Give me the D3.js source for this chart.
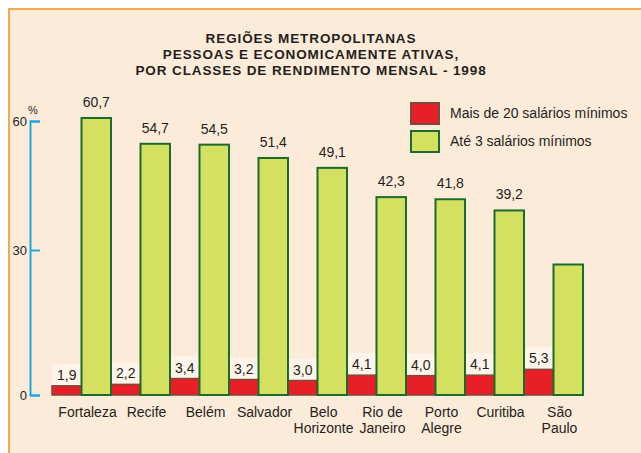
<!DOCTYPE html>
<html>
<head>
<meta charset="utf-8">
<script src="https://cdn.jsdelivr.net/npm/d3@7"></script>
<style>
  body { margin: 0; background: #fff; }
  svg { display: block; font-family: "Liberation Sans", Arial, sans-serif; }
</style>
</head>
<body>
<div id="chart"></div>
<script>
// data
const cities = ['Fortaleza', 'Recife', 'Belém', 'Salvador', 'Belo Horizonte',
    'Rio de Janeiro', 'Porto Alegre', 'Curitiba', 'São Paulo'];
const cityLines = [['Fortaleza'], ['Recife'], ['Belém'], ['Salvador'], ['Belo', 'Horizonte'],
    ['Rio de', 'Janeiro'], ['Porto', 'Alegre'], ['Curitiba'], ['São', 'Paulo']];
const mais20 = [1.9, 2.2, 3.4, 3.2, 3.0, 4.1, 4.0, 4.1, 5.3];
const ate3 = [60.7, 54.7, 54.5, 51.4, 49.1, 42.3, 41.8, 39.2, 27];
// São Paulo green value has no label in the original
const ate3Labels = ['60,7', '54,7', '54,5', '51,4', '49,1', '42,3', '41,8', '39,2', ''];
const seriesNames = ['Mais de 20 salários mínimos', 'Até 3 salários mínimos'];
const yTicks = [0, 30, 60];
const titleLines = ['REGIÕES METROPOLITANAS', 'PESSOAS E ECONOMICAMENTE ATIVAS,',
    'POR CLASSES DE RENDIMENTO MENSAL - 1998'];

const width = 641;
const height = 453;

const colors = {
    bg: '#fdebd9',
    border: '#f6a84e',
    red: '#e91f27', redStroke: '#7c4a3c',
    green: '#d4e060', greenStroke: '#1b6a2e',
    axis: '#1ba8e0',
    text: '#231f20'
};

const svg = d3.select('#chart')
    .append('svg')
    .attr('width', width)
    .attr('height', height);

// panel with orange border on top and left
svg.append('rect')
    .attr('x', 8).attr('y', 8)
    .attr('width', width).attr('height', height)
    .attr('fill', colors.bg);
svg.append('path')
    .attr('d', `M9,${height}V9H${width}`)
    .attr('fill', 'none')
    .attr('stroke', colors.border)
    .attr('stroke-width', 2);

// title
svg.append('g')
    .selectAll('text')
    .data(titleLines)
    .enter()
    .append('text')
    .attr('x', 311)
    .attr('y', (d, i) => 43 + i * 16)
    .attr('text-anchor', 'middle')
    .style('font-size', '13.5px')
    .style('font-weight', 'bold')
    .style('letter-spacing', '0.9px')
    .attr('fill', colors.text)
    .text(d => d);

// scales
const xScale = d3.scaleBand()
    .domain(cities)
    .range([52, 583]);

const xSub = d3.scaleBand()
    .domain([0, 1])
    .range([0, xScale.bandwidth()]);

// the printed axis is not quite linear, so use a piecewise scale through its ticks
const yScale = d3.scaleLinear()
    .domain([0, 30, 60])
    .range([395, 250, 121]);

// y axis (bracket shape with ticks to the right)
const yAxis = svg.append('g')
    .attr('transform', 'translate(30,0)')
    .call(d3.axisLeft(yScale).tickValues(yTicks).tickSize(-10).tickPadding(3));
yAxis.select('.domain').attr('stroke', colors.axis).attr('stroke-width', 2);
yAxis.selectAll('.tick line').attr('stroke', colors.axis).attr('stroke-width', 2);
yAxis.selectAll('.tick text')
    .attr('fill', colors.text)
    .style('font-size', '13px')
    .style('font-family', '"Liberation Sans", Arial, sans-serif');

svg.append('text')
    .attr('x', 28).attr('y', 114)
    .style('font-size', '11px')
    .attr('fill', colors.text)
    .text('%');

const chart = svg.append('g');

// light boxes behind the small red labels
chart.selectAll('.lblbox')
    .data(mais20)
    .enter()
    .append('rect')
    .attr('x', (d, i) => xScale(cities[i]) + xSub(0))
    .attr('y', d => yScale(d) - 22)
    .attr('width', xSub.bandwidth())
    .attr('height', 22)
    .attr('fill', '#fef4ea');

// red bars
chart.selectAll('.bar-red')
    .data(mais20)
    .enter()
    .append('rect')
    .attr('class', 'bar-red')
    .attr('x', (d, i) => xScale(cities[i]) + xSub(0))
    .attr('y', d => yScale(d))
    .attr('width', xSub.bandwidth())
    .attr('height', d => yScale(0) - yScale(d))
    .attr('fill', colors.red)
    .attr('stroke', colors.redStroke)
    .attr('stroke-width', 1.5);

// green bars
chart.selectAll('.bar-green')
    .data(ate3)
    .enter()
    .append('rect')
    .attr('class', 'bar-green')
    .attr('x', (d, i) => xScale(cities[i]) + xSub(1))
    .attr('y', d => yScale(d))
    .attr('width', xSub.bandwidth())
    .attr('height', d => yScale(0) - yScale(d))
    .attr('fill', colors.green)
    .attr('stroke', colors.greenStroke)
    .attr('stroke-width', 2);

// value labels
chart.selectAll('.lbl-red')
    .data(mais20)
    .enter()
    .append('text')
    .attr('x', (d, i) => xScale(cities[i]) + xSub(0) + xSub.bandwidth() / 2)
    .attr('y', d => yScale(d) - 6)
    .attr('text-anchor', 'middle')
    .style('font-size', '14px')
    .attr('fill', colors.text)
    .text(d => d3.format('.1f')(d).replace('.', ','));

chart.selectAll('.lbl-green')
    .data(ate3)
    .enter()
    .append('text')
    .attr('x', (d, i) => xScale(cities[i]) + xSub(1) + xSub.bandwidth() / 2)
    .attr('y', d => yScale(d) - 11)
    .attr('text-anchor', 'middle')
    .style('font-size', '14px')
    .attr('fill', colors.text)
    .text((d, i) => ate3Labels[i]);

// category labels
const xLabels = chart.selectAll('.xlbl')
    .data(cities)
    .enter()
    .append('text')
    .attr('text-anchor', 'middle')
    .style('font-size', '14px')
    .attr('fill', colors.text)
    .attr('transform', d => `translate(${xScale(d) + xScale.bandwidth() / 2 + 6},417)`);
xLabels.selectAll('tspan')
    .data((d, i) => cityLines[i])
    .enter()
    .append('tspan')
    .attr('x', 0)
    .attr('y', (d, i) => i * 16)
    .text(d => d);

// legend
const legend = svg.append('g').attr('transform', 'translate(411,103)');
const legendFill = [colors.red, colors.green];
const legendStroke = [colors.redStroke, colors.greenStroke];
seriesNames.forEach((name, i) => {
    const row = legend.append('g').attr('transform', `translate(0,${i * 28})`);
    row.append('rect')
        .attr('width', 28).attr('height', 21)
        .attr('fill', legendFill[i])
        .attr('stroke', legendStroke[i])
        .attr('stroke-width', 2);
    row.append('text')
        .attr('x', 39).attr('y', 15)
        .style('font-size', '14px')
        .attr('fill', colors.text)
        .text(name);
});
</script>
</body>
</html>
